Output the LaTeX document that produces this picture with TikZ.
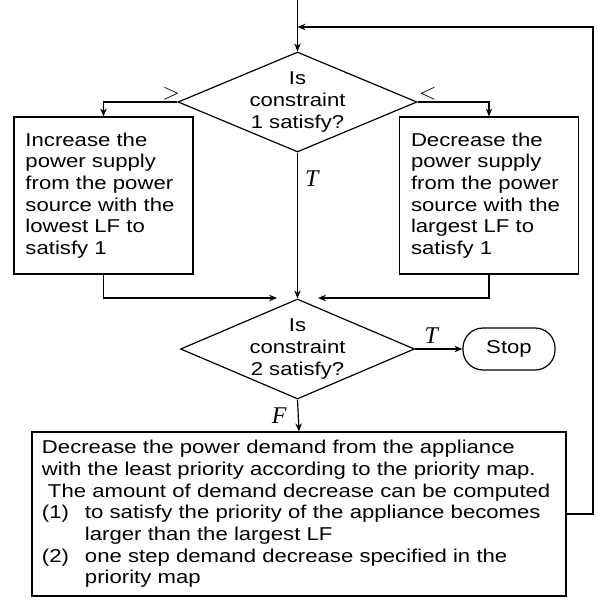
\documentclass[tikz,border=0pt]{standalone}
\usepackage{fontspec}
\setmainfont[FakeStretch=1.19]{Liberation Sans}
\newfontfamily\lmfont{Latin Modern Roman}
\newfontfamily\tfont{Liberation Serif}
\usetikzlibrary{arrows.meta}
\usetikzlibrary{shapes.geometric}
\usetikzlibrary{calc,positioning}

\tikzset{
    txt/.style={font=\fontsize{18.6bp}{21.7bp}\selectfont},
    box/.style={draw, rectangle, txt, align=left, inner xsep=11.5bp, inner ysep=0pt},
    decision/.style={draw, diamond, inner sep=0pt, minimum height=100bp},
    qtext/.style={txt, align=center, inner sep=0pt},
    term/.style={draw, rectangle, txt, rounded corners=20bp, minimum width=92bp, minimum height=42bp},
    rel/.style={inner sep=1bp, font=\lmfont\fontsize{23bp}{24bp}\selectfont},
    lbl/.style={inner sep=1bp, font=\tfont\itshape\fontsize{24bp}{26bp}\selectfont}
}

\begin{document}
\begin{tikzpicture}[x=1bp, y=-1bp, >={Stealth[length=8bp,width=6.5bp]}, line width=1.2bp]
    \useasboundingbox (0,0) rectangle (598,601);

    \node[decision, minimum width=239bp] (q1) at (297.5,102) {};
    \node[qtext] (q1t) at (q1) {Is\\constraint\\1 satisfy?};
    \node[box, text width=156bp, minimum height=157bp] (inc) at (103.5,195.5)
        {Increase the\\power supply\\from the power\\source with the\\lowest LF to\\satisfy 1};
    \node[box, text width=156bp, minimum height=157bp] (decr) at (489,195.5)
        {Decrease the\\power supply\\from the power\\source with the\\largest LF to\\satisfy 1};
    \node[decision, minimum width=234bp] (q2) at (297.5,349) {};
    \node[qtext] (q2t) at (q2) {Is\\constraint\\2 satisfy?};
    \node[term] (stop) at (509,349) {Stop};
    \node[box, text width=514bp, inner xsep=10bp, minimum height=164bp] (cut) at (299,514)
        {Decrease the power demand from the appliance\\
         with the least priority according to the priority map.\\
         \hspace*{6bp}The amount of demand decrease can be computed\\
         \makebox[43bp][l]{(1)}to satisfy the priority of the appliance becomes\\
         \hspace*{43bp}larger than the largest LF\\
         \makebox[43bp][l]{(2)}one step demand decrease specified in the\\
         \hspace*{43bp}priority map};

    \coordinate (in) at (297.5,0);
    \coordinate (back) at (297.5,27);
    \coordinate (rr) at (593,27);
    \coordinate (m1) at (277,298);
    \coordinate (m2) at (318,298);

    \draw[->] (in) -- (q1.north);
    \draw[->] (q1.west) -| node[rel, pos=0, above left, xshift=4bp]{>} (inc.north);
    \draw[->] (q1.east) -| node[rel, pos=0, above right]{<} (decr.north);
    \draw[->] (q1.south) -- node[lbl, pos=0.18, right=6bp]{T} (q2.north);

    \draw[->] (inc.south) |- (m1);
    \draw[->] (decr.south) |- (m2);

    \draw[->] (q2.east) -- node[lbl, pos=0.34, above=4bp]{T} (stop.west);
    \draw[->] (q2.south) -- node[lbl, left=10bp]{F} (cut.north);
    \draw[->] (cut.east) -| (rr) -- (back);

\end{tikzpicture}
\end{document}
